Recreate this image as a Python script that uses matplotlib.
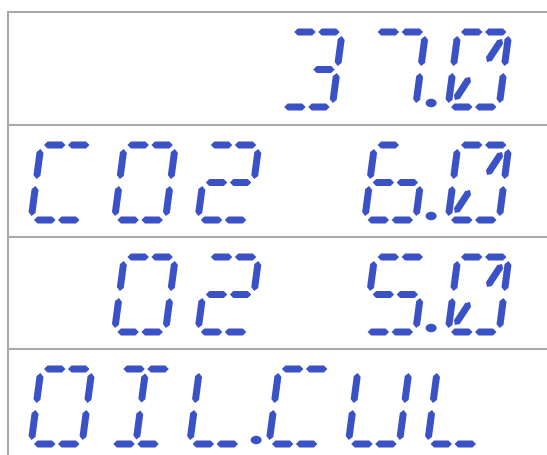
import numpy as np
import matplotlib
matplotlib.use('Agg')
import matplotlib.pyplot as plt
from matplotlib.patches import Polygon, Ellipse

# display contents, a '.' attaches to the previous character
# '0' is the slashed zero, 'O' the letter
rows = ['   37.0', 'CO2 6.0', ' O2 5.0', 'OIL.CUL']
row_tops = [13, 126, 238, 350]
row_x0 = [31, 31, 31, 31]
row_pitch = [83.4, 83.4, 83.4, 79.3]

# 16 segment font
font = {
    ' ': [],
    '0': ['a1', 'a2', 'b', 'c', 'd1', 'd2', 'e', 'f', 'j', 'k'],
    'O': ['a1', 'a2', 'b', 'c', 'd1', 'd2', 'e', 'f'],
    '2': ['a1', 'a2', 'b', 'g1', 'g2', 'e', 'd1', 'd2'],
    '3': ['a1', 'a2', 'b', 'c', 'g2', 'd1', 'd2'],
    '5': ['a1', 'a2', 'f', 'g1', 'g2', 'c', 'd1', 'd2'],
    '6': ['a1', 'f', 'e', 'g1', 'g2', 'c', 'd1', 'd2'],
    '7': ['a1', 'a2', 'b', 'c'],
    'C': ['a1', 'a2', 'f', 'e', 'd1', 'd2'],
    'I': ['a1', 'a2', 'i', 'l', 'd1', 'd2'],
    'L': ['f', 'e', 'd1', 'd2'],
    'U': ['f', 'e', 'b', 'c', 'd1', 'd2'],
}

W, H, M = 51, 75, 37.5
skew = 10 / 75
thick = 7
lcd_blue = '#3b51c6'
grey = '#aaaaaa'

segs = {
    'a1': ((3, H), (24.5, H)), 'a2': ((27, H), (48.5, H)),
    'f': ((0, H - 4), (0, M + 3.5)), 'b': ((W, H - 4), (W, M + 3.5)),
    'e': ((0, M - 3.5), (0, 4)), 'c': ((W, M - 3.5), (W, 4)),
    'g1': ((3, M), (24.5, M)), 'g2': ((27, M), (48.5, M)),
    'd1': ((3, 0), (24.5, 0)), 'd2': ((27, 0), (48.5, 0)),
    'i': ((25.5, H - 4.5), (25.5, M + 4)), 'l': ((25.5, M - 4), (25.5, 4.5)),
    'j': ((45, 68), (33, 45)), 'k': ((18, 30), (6, 7)),
}


def to_px(u, v, x0, yb):
    return np.array([x0 + u + skew * v, yb - v])


def segment(p0, p1):
    d = p1 - p0
    d = d / np.hypot(*d)
    n = np.array([-d[1], d[0]])
    h = thick / 2
    return [p0, p0 + d * h + n * h, p1 - d * h + n * h, p1,
            p1 - d * h - n * h, p0 + d * h - n * h]


fig = plt.figure(figsize=(5.47, 4.56), dpi=100)
ax = fig.add_axes([0, 0, 1, 1])
ax.set_xlim(0, 547)
ax.set_ylim(456, 0)
ax.axis('off')

# frame
for y in row_tops:
    ax.plot([7.5, 547], [y, y], color=grey, lw=1.5, solid_capstyle='butt')
ax.plot([7.5, 7.5], [row_tops[0], 456], color=grey, lw=1.5)

for text, top, x_start, pitch in zip(rows, row_tops, row_x0, row_pitch):
    yb = top + 95
    chars = []
    for ch in text:
        if ch == '.':
            chars[-1][1] = True
        else:
            chars.append([ch, False])
    for n, (ch, dot) in enumerate(chars):
        x0 = x_start + n * pitch
        for s in font[ch]:
            (u0, v0), (u1, v1) = segs[s]
            pts = segment(to_px(u0, v0, x0, yb), to_px(u1, v1, x0, yb))
            ax.add_patch(Polygon(pts, closed=True, fc=lcd_blue, ec='none'))
        if dot:
            cx, cy = to_px(66, 4, x0, yb)
            ax.add_patch(Ellipse((cx, cy), 11, 8.5, fc=lcd_blue, ec='none'))

fig.savefig('out.png', dpi=100, facecolor='white')
